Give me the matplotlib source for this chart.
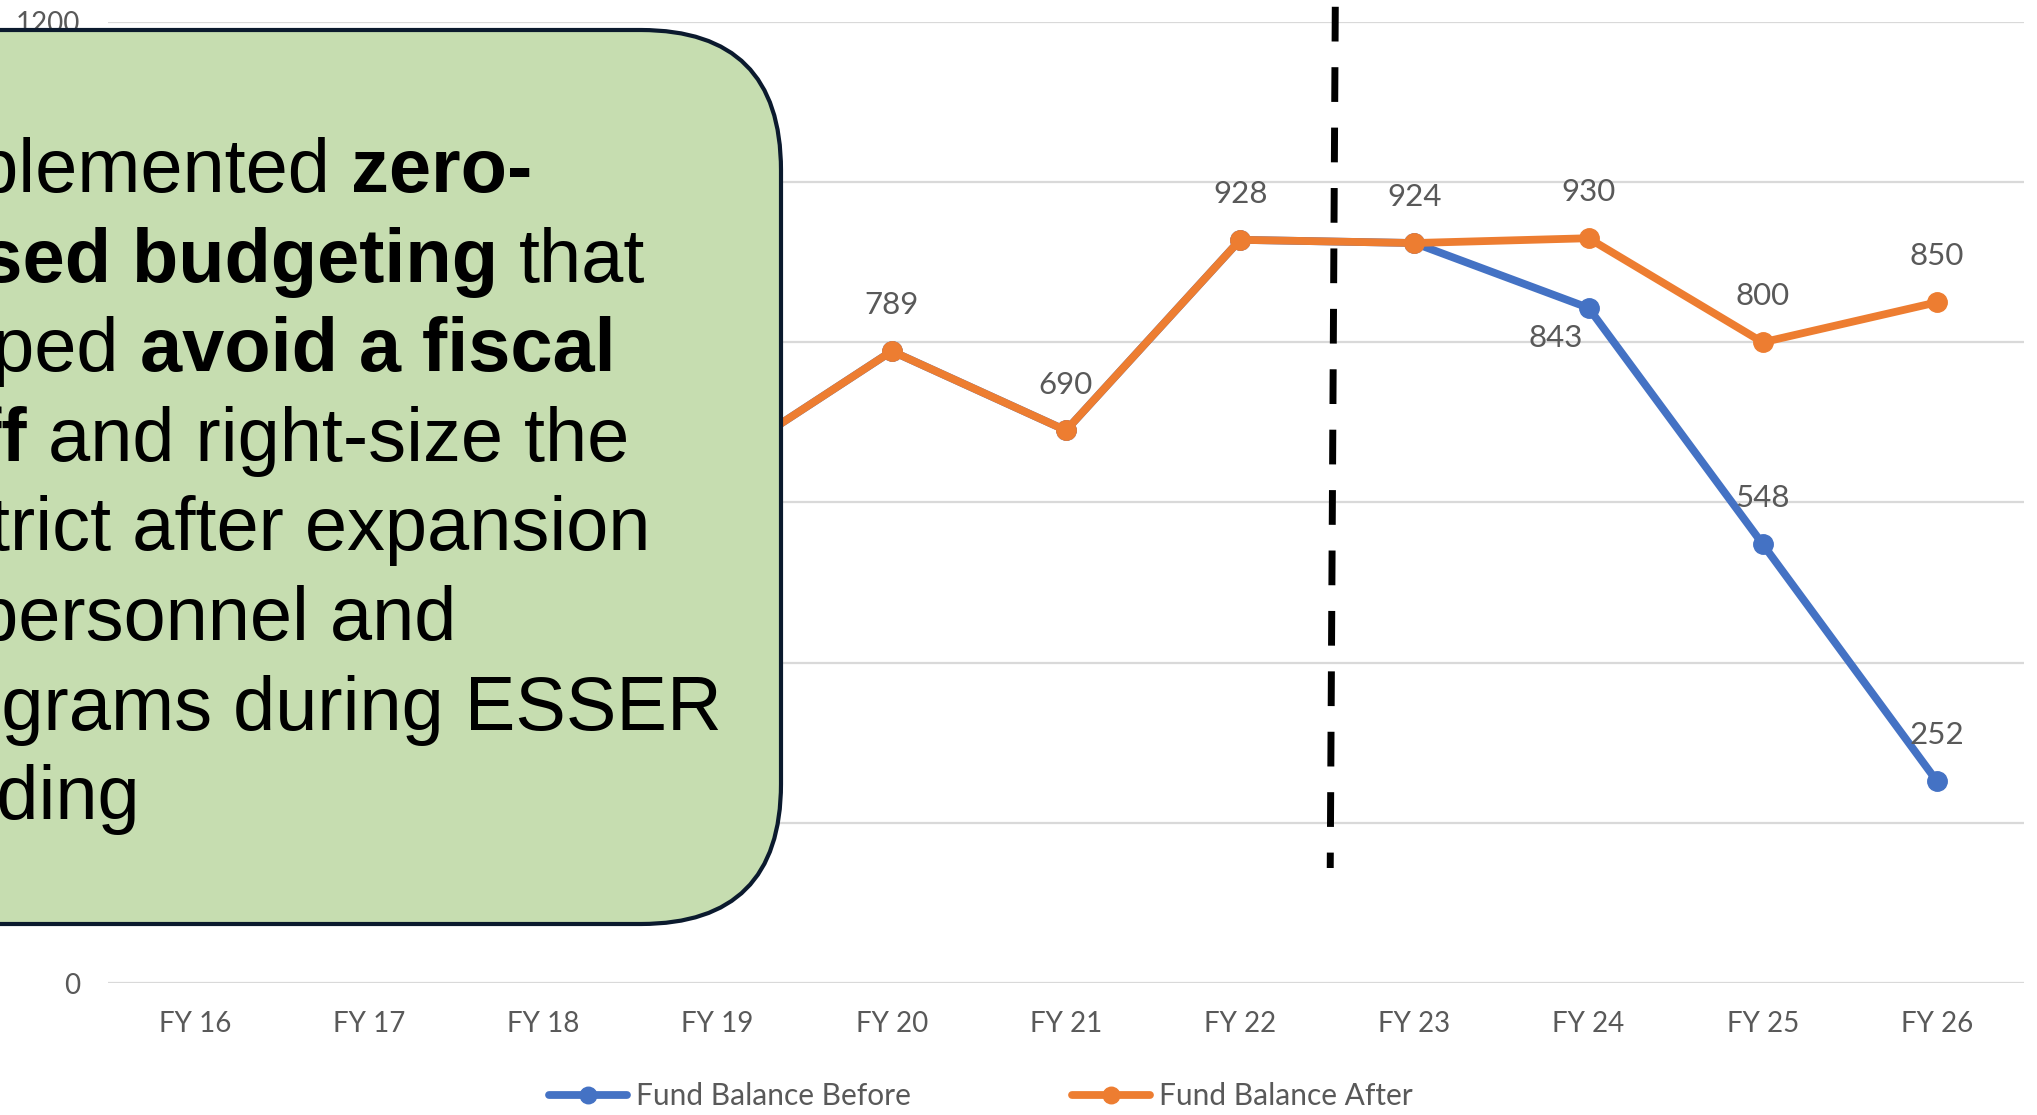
import matplotlib.pyplot as plt
from matplotlib.patches import FancyBboxPatch

years = ['FY 16', 'FY 17', 'FY 18', 'FY 19', 'FY 20', 'FY 21', 'FY 22',
         'FY 23', 'FY 24', 'FY 25', 'FY 26']
# FY16-FY18 sit behind the callout box; rough guesses
balance_after = [560, 600, 625, 647, 789, 690, 928, 924, 930, 800, 850]
balance_before = [560, 600, 625, 647, 789, 690, 928, 924, 843, 548, 252]
before_labels_from = 8   # blue labels only where the lines split

callout_lines = [
    [('Implemented', False), ('zero-', True)],
    [('based budgeting', True), ('that', False)],
    [('helped', False), ('avoid a fiscal', True)],
    [('cliff', True), ('and right-size the', False)],
    [('district after expansion', False)],
    [('of personnel and', False)],
    [('programs during ESSER', False)],
    [('funding', False)],
]

BLUE = '#4472C4'
ORANGE = '#ED7D31'
GREY = '#595959'
W, H = 2037, 1115

plt.rcParams['font.family'] = ['Lato', 'DejaVu Sans']

fig = plt.figure(figsize=(W / 100, H / 100), dpi=100)
ax = fig.add_axes([108 / W, 1 - 983 / H, (2024 - 108) / W, (983 - 22) / H])

x = list(range(len(years)))
ax.plot(x, balance_before, color=BLUE, lw=5.6, marker='o', ms=14,
        solid_capstyle='round', label='Fund Balance Before', zorder=3)
ax.plot(x, balance_after, color=ORANGE, lw=5.6, marker='o', ms=14,
        solid_capstyle='round', label='Fund Balance After', zorder=4)

for i, v in enumerate(balance_after):
    ax.annotate(str(v), (i, v), xytext=(0, 33), textcoords='offset points',
                ha='center', va='center', fontsize=22.5, color=GREY)
for i, v in enumerate(balance_before):
    if i < before_labels_from:
        continue
    off = (-24, -22) if i == before_labels_from else (0, 33)
    ax.annotate(str(v), (i, v), xytext=off, textcoords='offset points',
                ha='center', va='center', fontsize=22.5, color=GREY)

# dashed divider between actuals and projections
ax.plot([6.546, 6.517], [1219, 143.6], color='black', lw=5,
        dashes=(5.0, 3.7), solid_capstyle='butt', clip_on=False, zorder=5)

ax.set_xlim(-0.5, 10.5)
ax.set_ylim(0, 1200)
ax.set_yticks(range(0, 1201, 200))
ax.set_xticks(x)
ax.set_xticklabels(years)
ax.tick_params(length=0, labelsize=20, labelcolor=GREY)
ax.tick_params(axis='y', pad=20)
ax.tick_params(axis='x', pad=20)
ax.grid(axis='y', color='#D9D9D9', lw=1.6)
ax.set_axisbelow(True)
for s in ax.spines.values():
    s.set_visible(False)

fig.legend(loc='center', bbox_to_anchor=(981 / W, 1 - 1096 / H), ncol=2,
           frameon=False, fontsize=21.5, labelcolor=GREY, handlelength=2.6,
           handletextpad=0.3, columnspacing=5.4, markerscale=0.85)

# callout box running off the left edge
box = FancyBboxPatch((-0.1, 1 - 924 / H), 0.1 + 781 / W, (924 - 30) / H,
                     boxstyle='round,pad=0,rounding_size=%f' % (140 / W),
                     mutation_aspect=W / H, transform=fig.transFigure,
                     facecolor='#C6DDB0', edgecolor='#0B1A2E', lw=3,
                     zorder=10)
fig.add_artist(box)

r = fig.canvas.get_renderer()
tkw = dict(fontsize=54.5, family='Liberation Sans', color='black',
           va='baseline', ha='left', zorder=11)
t1 = fig.text(0, 0, 'a a', **tkw)
t2 = fig.text(0, 0, 'aa', **tkw)
space = (t1.get_window_extent(r).width - t2.get_window_extent(r).width) / W
t1.remove()
t2.remove()

for n, runs in enumerate(callout_lines):
    xp = -108 / W
    yp = 1 - (192 + n * 89.6) / H
    for s, bold in runs:
        t = fig.text(xp, yp, s, fontweight='bold' if bold else 'normal', **tkw)
        xp += t.get_window_extent(r).width / W + space

fig.savefig('out.png', dpi=100)
